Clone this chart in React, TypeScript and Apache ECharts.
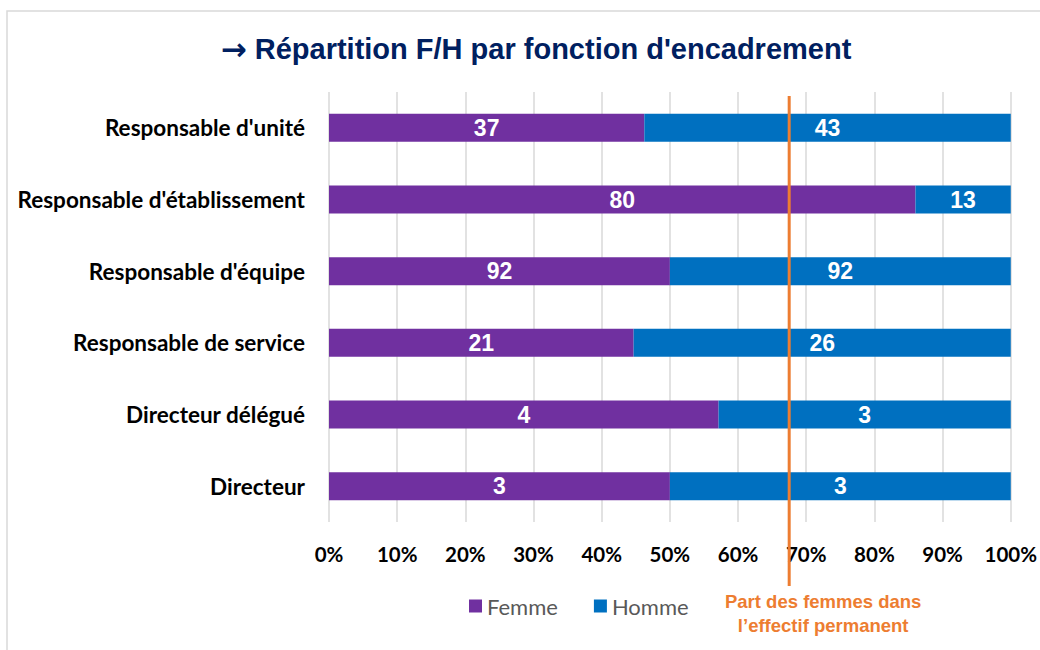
import React, { useEffect, useRef } from "react";
import * as echarts from "echarts";

const categories = [
  "Responsable d'unité",
  "Responsable d'établissement",
  "Responsable d'équipe",
  "Responsable de service",
  "Directeur délégué",
  "Directeur",
];
const femmes = [37, 80, 92, 21, 4, 3];
const hommes = [43, 13, 92, 26, 3, 3];
const femaleShareTarget = 67.5;
const xTicks = [0, 10, 20, 30, 40, 50, 60, 70, 80, 90, 100];

const TITLE_ARROW = "\u2192";
const TITLE = "Répartition F/H par fonction d'encadrement";
const NOTE = "Part des femmes dans\nl\u2019effectif permanent";

export default function App() {
  const ref = useRef<HTMLDivElement>(null);
  useEffect(() => {
    if (!ref.current) return;
    const chart = echarts.init(ref.current, undefined, { renderer: "svg" });
    const totals = femmes.map((f, i) => f + hommes[i]);
    const fData = femmes.map((f, i) => ({ value: (f / totals[i]) * 100, count: f }));
    const hData = hommes.map((h, i) => ({ value: (h / totals[i]) * 100, count: h }));
    const labelCfg = {
      show: true,
      position: "inside",
      color: "#ffffff",
      fontFamily: "Liberation Sans, Arial, sans-serif",
      fontWeight: "bold",
      fontSize: 23,
      formatter: (p: any) => String(p.data.count),
    };
    chart.setOption({
      animation: false,
      title: {
        text: "{a|" + TITLE_ARROW + "} " + TITLE,
        left: 531,
        textAlign: "center",
        top: 28,
        textStyle: {
          fontFamily: "Liberation Sans, Arial, sans-serif",
          fontWeight: "bold",
          fontSize: 29,
          color: "#002060",
          rich: {
            a: {
              fontFamily: "DejaVu Sans",
              fontWeight: "bold",
              fontSize: 31,
              color: "#002060",
            },
          },
        },
      },
      grid: { left: 329, right: 29, top: 92, bottom: 128, containLabel: false },
      xAxis: {
        type: "value",
        min: 0,
        max: 100,
        interval: 10,
        axisLine: { show: false },
        axisTick: { show: false },
        splitLine: { show: true, lineStyle: { color: "#D9D9D9", width: 1.5 } },
        axisLabel: {
          formatter: (v: number) => (xTicks.includes(v) ? v + "%" : ""),
          color: "#000000",
          fontFamily: "Lato, sans-serif",
          fontWeight: "bold",
          fontSize: 20.5,
          margin: 21,
        },
      },
      yAxis: {
        type: "category",
        data: categories,
        inverse: true,
        axisLine: { show: false },
        axisTick: { show: false },
        axisLabel: {
          color: "#000000",
          fontFamily: "Lato, sans-serif",
          fontWeight: "bold",
          fontSize: 22.5,
          margin: 24,
        },
      },
      legend: {
        left: 464,
        top: 590,
        icon: "rect",
        itemWidth: 13,
        itemHeight: 13,
        itemGap: 36,
        textStyle: { color: "#595959", fontFamily: "Lato, sans-serif", fontSize: 22 },
        data: ["Femme", "Homme"],
      },
      series: [
        {
          name: "Femme",
          type: "bar",
          stack: "total",
          barWidth: 28,
          itemStyle: { color: "#7030A0" },
          label: labelCfg,
          data: fData,
        },
        {
          name: "Homme",
          type: "bar",
          stack: "total",
          barWidth: 28,
          itemStyle: { color: "#0070C0" },
          label: labelCfg,
          data: hData,
        },
      ],
    });
    const lx = chart.convertToPixel({ xAxisIndex: 0 }, femaleShareTarget) as number;
    chart.setOption({
      graphic: [
        {
          type: "rect",
          shape: { x: 7, y: 11, width: 1100, height: 700 },
          style: { fill: "none", stroke: "#D9D9D9", lineWidth: 1.5 },
          silent: true,
        },
        {
          type: "line",
          shape: { x1: lx, y1: 96, x2: lx, y2: 586 },
          style: { stroke: "#ED7D31", lineWidth: 3 },
          z: 100,
        },
        {
          type: "text",
          x: lx + 34,
          y: 613,
          style: {
            text: NOTE,
            fill: "#ED7D31",
            fontFamily: "Liberation Sans, Arial, sans-serif",
            fontWeight: "bold",
            fontSize: 18.5,
            lineHeight: 24,
            align: "center",
            verticalAlign: "middle",
          },
        },
      ],
    });
    return () => chart.dispose();
  }, []);
  return (
    <div
      ref={ref}
      style={{ position: "absolute", left: 0, top: 0, width: 1040, height: 650, background: "#fff" }}
    />
  );
}
